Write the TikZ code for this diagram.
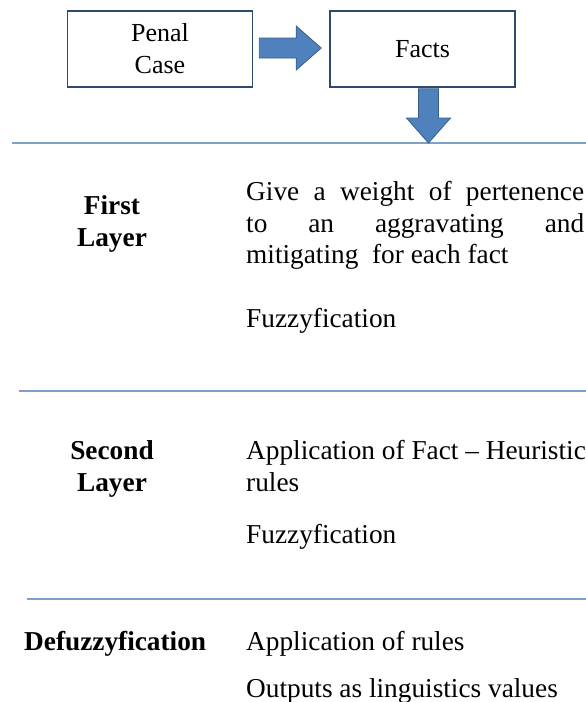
\documentclass[tikz,border=0pt]{standalone}
\usepackage{fontspec}
\setmainfont{Liberation Serif}
\usetikzlibrary{calc}
\definecolor{boxline}{HTML}{2E4A6E}
\definecolor{arrowfill}{HTML}{4F81BD}
\definecolor{arrowline}{HTML}{385D8A}
\definecolor{sepline}{HTML}{7EA1CC}
\begin{document}
\begin{tikzpicture}[x=1pt,y=-1pt,
  box/.style={draw=boxline,line width=1.6pt,minimum width=185pt,minimum height=76pt,inner sep=0pt,align=center,font=\fontsize{26}{32}\selectfont},
  txt/.style={anchor=base west,inner sep=0pt,font=\fontsize{27.3}{32}\selectfont},
  lbl/.style={anchor=base,inner sep=0pt,font=\fontsize{27.3}{32}\selectfont\bfseries},
  sep/.style={draw=sepline,line width=1.2pt},
  fatarrow/.style={fill=arrowfill,draw=arrowline,line width=0.8pt,line join=miter}]
\useasboundingbox (0,0) rectangle (586,702);
% boxes
\node[box] (pc) at (160,49) {Penal\\Case};
\node[box] (facts) at (422.5,49) {Facts};
% right block arrow
\coordinate (ra) at ($(pc.east)+(6,-1)$);
\coordinate (rb) at ($(facts.west)+(-8,-1)$);
\draw[fatarrow] ($(ra)+(0,-10)$) -- ($(rb)+(-25,-10)$) -- ($(rb)+(-25,-22)$) -- (rb)
  -- ($(rb)+(-25,22)$) -- ($(rb)+(-25,10)$) -- ($(ra)+(0,10)$) -- cycle;
% separators
\coordinate (s1a) at (12,143); \coordinate (s1b) at (586,143);
\coordinate (s2a) at (19,391); \coordinate (s2b) at (586,391);
\coordinate (s3a) at (27,599); \coordinate (s3b) at (586,599);
\draw[sep] (s1a) -- (s1b);
\draw[sep] (s2a) -- (s2b);
\draw[sep] (s3a) -- (s3b);
% down block arrow
\coordinate (da) at ($(facts.south)+(6,1)$);
\coordinate (db) at ($(da|-s1a)$);
\draw[fatarrow] ($(da)+(-10,0)$) -- ($(da)+(10,0)$) -- ($(db)+(10,-25)$) -- ($(db)+(22,-25)$) -- (db)
  -- ($(db)+(-22,-25)$) -- ($(db)+(-10,-25)$) -- cycle;
% first layer
\node[lbl] (l1a) at (112,214) {First};
\node[lbl] (l1b) at (112,246) {Layer};
\node[txt] (t1a) at (246,200) {\makebox[338pt][s]{Give a weight of pertenence}};
\node[txt] (t1b) at (246,232) {\makebox[338pt][s]{to an aggravating and}};
\node[txt] (t1c) at (246,263) {mitigating\ \ for each fact};
\node[txt] (t1d) at (246,327) {Fuzzyfication};
% second layer
\node[lbl] (l2a) at (112,459) {Second};
\node[lbl] (l2b) at (112,491) {Layer};
\node[txt] (t2a) at (246,459) {Application of Fact -- Heuristic};
\node[txt] (t2b) at (246,491) {rules};
\node[txt] (t2c) at (246,543) {Fuzzyfication};
% defuzzyfication
\node[lbl,anchor=base west] (l3) at (24,650) {Defuzzyfication};
\node[txt] (t3a) at (246,650) {Application of rules};
\node[txt] (t3b) at (246,697) {Outputs as linguistics values};
\end{tikzpicture}
\end{document}
